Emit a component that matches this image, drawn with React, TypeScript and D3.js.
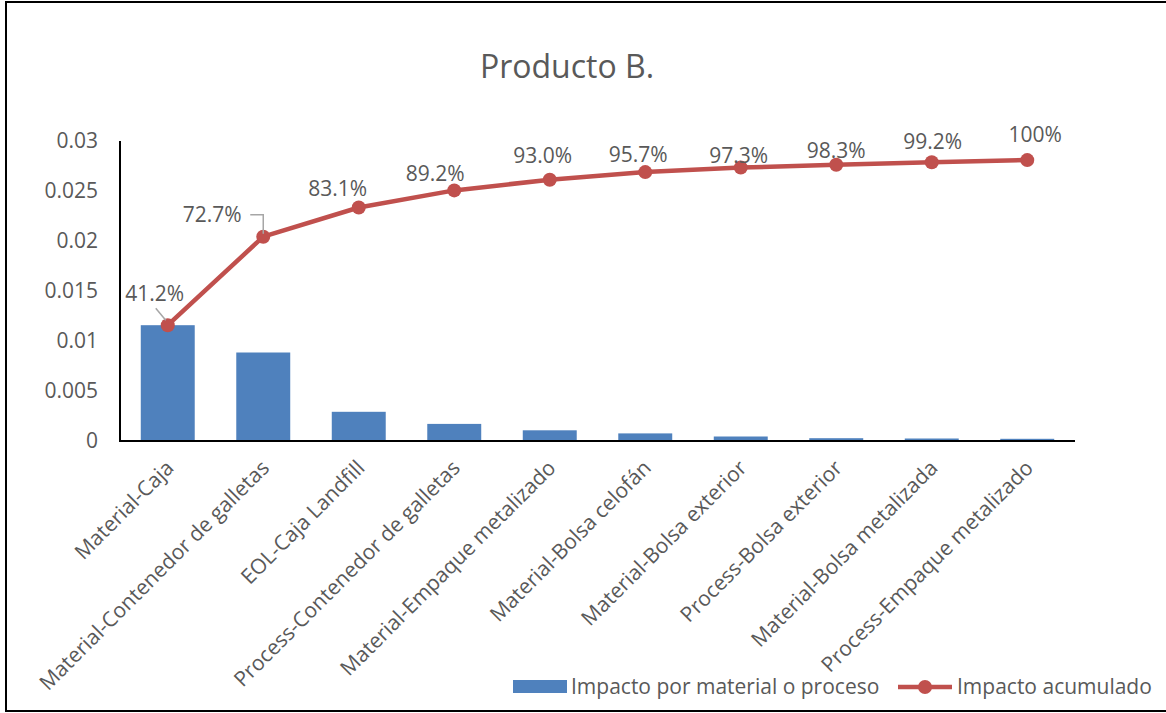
import React from "react";
import * as d3 from "d3";

const categories = [
  "Material-Caja",
  "Material-Contenedor de galletas",
  "EOL-Caja Landfill",
  "Process-Contenedor de galletas",
  "Material-Empaque metalizado",
  "Material-Bolsa celofán",
  "Material-Bolsa exterior",
  "Process-Bolsa exterior",
  "Material-Bolsa metalizada",
  "Process-Empaque metalizado",
];
const impacts = [0.01158, 0.00885, 0.00292, 0.00171, 0.00107, 0.00076, 0.00045, 0.00028, 0.00025, 0.00022];
const cumulative = [0.01158, 0.02043, 0.02335, 0.02506, 0.02613, 0.02689, 0.02734, 0.02762, 0.02787, 0.02809];
const percentLabels = ["41.2%", "72.7%", "83.1%", "89.2%", "93.0%", "95.7%", "97.3%", "98.3%", "99.2%", "100%"];
const yTicks = [0, 0.005, 0.01, 0.015, 0.02, 0.025, 0.03];
const yTickLabels = ["0", "0.005", "0.01", "0.015", "0.02", "0.025", "0.03"];
const title = "Producto B.";
const seriesNames = ["Impacto por material o proceso", "Impacto acumulado"];

// label offsets (layout only) relative to the marker
const labelOffsets: [number, number][] = [
  [-13, -32], [-51, -22], [-21, -19], [-19, -17], [-7, -24], [-7, -17], [-2, -12], [0, -14], [1, -21], [8, -25],
];

const W = 1166;
const H = 713;
const FONT = "'Open Sans', 'DejaVu Sans', sans-serif";
const TEXT = "#595959";
const BAR = "#4F81BD";
const LINE = "#C0504D";
const FS = 21;

export default function App() {
  const x = d3.scaleBand<string>().domain(categories).range([120, 1075]).paddingInner(0.435).paddingOuter(0.2175);
  const y = d3.scaleLinear().domain([0, 0.03]).range([441, 141]);
  const cx = (c: string) => (x(c) as number) + x.bandwidth() / 2;
  const line = d3
    .line<number>()
    .x((_, i) => cx(categories[i]))
    .y((d) => y(d));

  const p1 = { x: cx(categories[0]), y: y(cumulative[0]) };
  const p2 = { x: cx(categories[1]), y: y(cumulative[1]) };

  return (
    <svg width={W} height={H} style={{ position: "absolute", left: 0, top: 0, background: "#fff" }} fontFamily={FONT}>
      <rect x={6} y={2} width={1170} height={709} fill="#fff" stroke="#000" strokeWidth={2} />
      <text x={567} y={78} textAnchor="middle" fontSize={32} fill={TEXT}>
        {title}
      </text>
      {/* y tick labels */}
      {yTicks.map((t, i) => (
        <text key={t} x={98} y={y(t)} dy="0.35em" textAnchor="end" fontSize={FS} fill={TEXT}>
          {yTickLabels[i]}
        </text>
      ))}
      {/* bars */}
      {impacts.map((v, i) => (
        <rect key={i} x={x(categories[i])} y={y(v)} width={x.bandwidth()} height={y(0) - y(v)} fill={BAR} />
      ))}
      {/* axes */}
      <line x1={120} x2={120} y1={141} y2={442} stroke="#000" strokeWidth={2} />
      <line x1={119} x2={1075} y1={441} y2={441} stroke="#000" strokeWidth={2} />
      {/* category labels */}
      {categories.map((c) => (
        <text
          key={c}
          transform={`translate(${cx(c) + 2},${464}) rotate(-45)`}
          textAnchor="end"
          dy="0.35em"
          fontSize={FS}
          fill={TEXT}
        >
          {c}
        </text>
      ))}
      {/* cumulative line */}
      <path d={line(cumulative) || ""} fill="none" stroke={LINE} strokeWidth={4.5} strokeLinejoin="round" />
      {cumulative.map((v, i) => (
        <circle key={i} cx={cx(categories[i])} cy={y(v)} r={7} fill={LINE} />
      ))}
      {/* leader lines */}
      <line x1={p1.x - 12} y1={p1.y - 17} x2={p1.x - 2} y2={p1.y - 5} stroke="#A6A6A6" strokeWidth={1.5} />
      <polyline
        points={`${p2.x - 13},${p2.y - 22} ${p2.x},${p2.y - 22} ${p2.x},${p2.y - 3}`}
        fill="none"
        stroke="#A6A6A6"
        strokeWidth={1.5}
      />
      {/* percent labels */}
      {cumulative.map((v, i) => (
        <text
          key={i}
          x={cx(categories[i]) + labelOffsets[i][0]}
          y={y(v) + labelOffsets[i][1]}
          dy="0.35em"
          textAnchor="middle"
          fontSize={FS}
          fill={TEXT}
        >
          {percentLabels[i]}
        </text>
      ))}
      {/* legend */}
      <rect x={513} y={680} width={54} height={13} fill={BAR} />
      <text x={571} y={687} dy="0.35em" fontSize={FS} fill={TEXT}>
        {seriesNames[0]}
      </text>
      <line x1={898} x2={952} y1={687} y2={687} stroke={LINE} strokeWidth={4.5} />
      <circle cx={925} cy={687} r={7} fill={LINE} />
      <text x={957} y={687} dy="0.35em" fontSize={FS} fill={TEXT}>
        {seriesNames[1]}
      </text>
    </svg>
  );
}
